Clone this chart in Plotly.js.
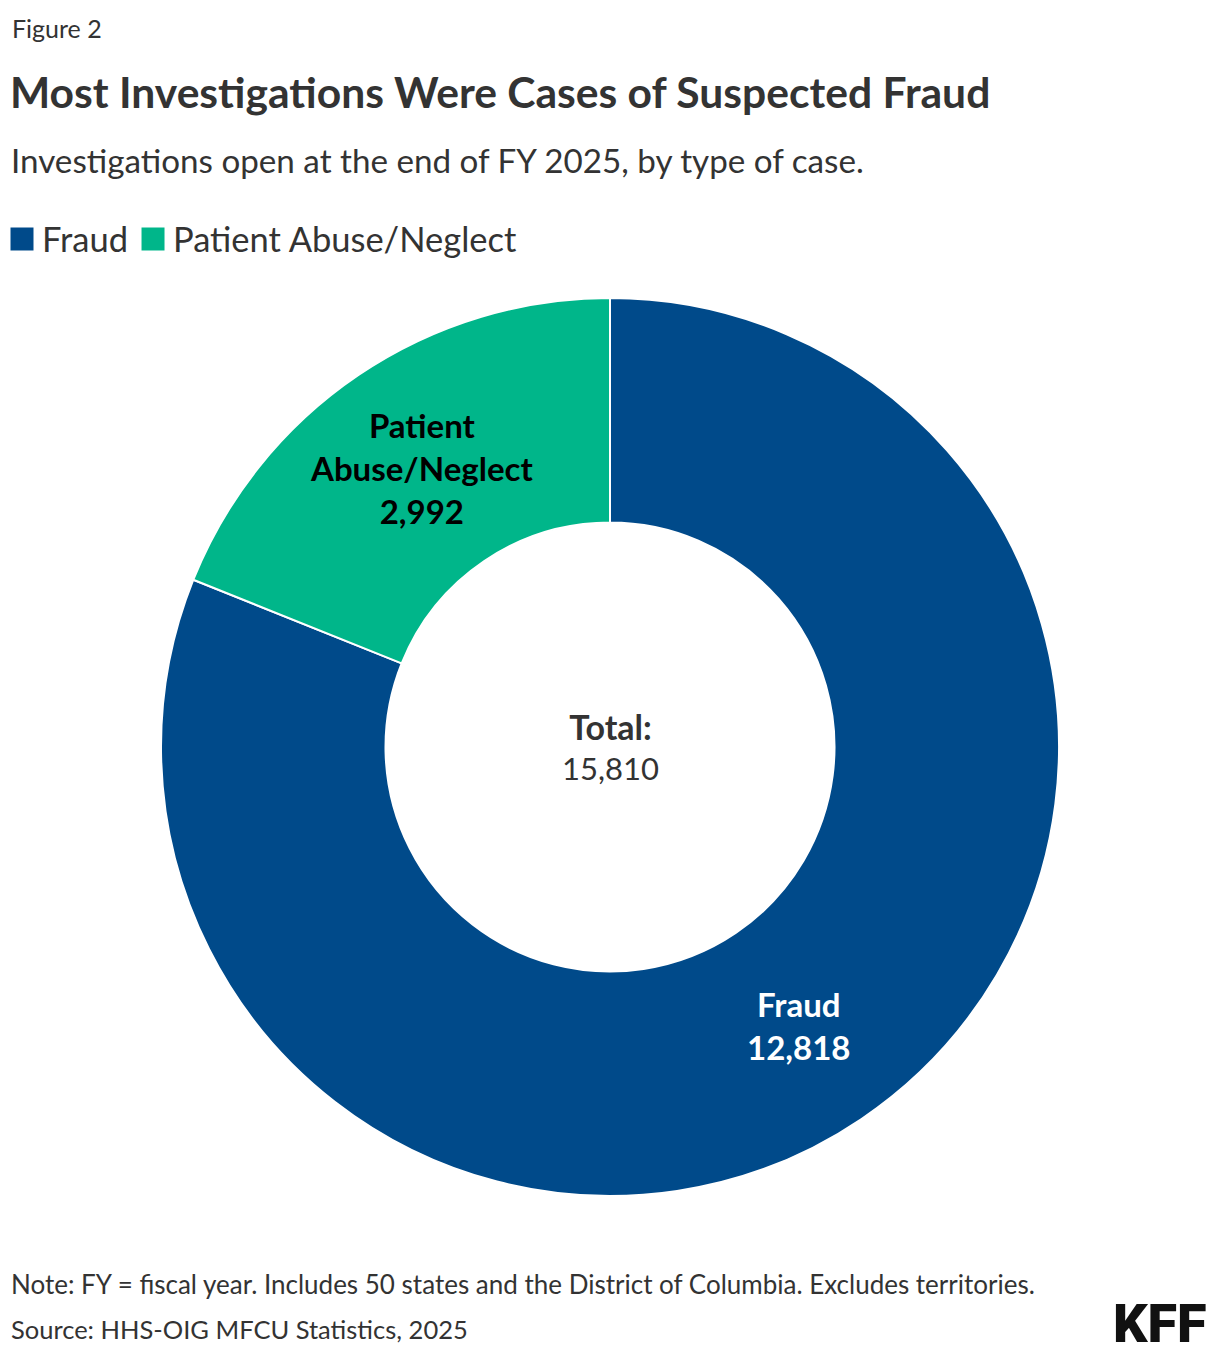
<!DOCTYPE html>
<html>
<head>
<meta charset="utf-8">
<script src="https://cdn.plot.ly/plotly-3.0.1.min.js"></script>
<style>
  html, body { margin: 0; padding: 0; background: #fff; }
  #chart { width: 1220px; height: 1356px; }
</style>
</head>
<body>
<div id="chart"></div>
<script>
// ---- Data ----
const categories = ['Fraud', 'Patient Abuse/Neglect'];
const sliceLabels = ['Fraud', 'Patient<br>Abuse/Neglect'];
const caseCounts = [12818, 2992];
const sliceColors = ['#004a8a', '#00b68a'];
const sliceTextColors = ['#ffffff', '#000000'];

const W = 1220, H = 1356;
const FONT = 'Lato, "Noto Sans", sans-serif';
const TXT = '#333333';
const py = p => 1 - p / H;   // pixel y -> paper y
const px = p => p / W;

const total = caseCounts.reduce((a, b) => a + b, 0);

const cx = 610, cy = 747, R = 449, HOLE = 0.5;

const trace = {
  type: 'pie',
  labels: categories,
  values: caseCounts,
  textinfo: 'none',
  hole: HOLE,
  sort: false,
  direction: 'clockwise',
  rotation: 0,
  marker: { colors: sliceColors, line: { color: '#ffffff', width: 2 } },
  domain: { x: [px(cx - R), px(cx + R)], y: [py(cy + R), py(cy - R)] },
  hoverinfo: 'label+value'
};

// slice labels placed at the middle of each slice (derived from the values)
const sliceAnnotations = [];
let cum = 0;
const rMid = R * (1 + HOLE) / 2;
caseCounts.forEach((v, i) => {
  const theta = 2 * Math.PI * (cum + v / 2) / total;
  cum += v;
  sliceAnnotations.push({
    text: '<b>' + sliceLabels[i] + '<br>' + v.toLocaleString('en-US') + '</b>',
    x: px(cx + rMid * Math.sin(theta)), y: py(cy - rMid * Math.cos(theta)),
    xref: 'paper', yref: 'paper', xanchor: 'center', yanchor: 'middle', showarrow: false,
    font: { size: 33, color: sliceTextColors[i] }
  });
});

const layout = {
  width: W, height: H,
  margin: { l: 0, r: 0, t: 0, b: 0 },
  paper_bgcolor: '#ffffff',
  font: { family: FONT, color: TXT },
  showlegend: true,
  legend: {
    orientation: 'h', x: px(2), y: py(210), xanchor: 'left', yanchor: 'top',
    font: { family: FONT, size: 34.5, color: TXT },
    itemwidth: 30, traceorder: 'normal', bgcolor: 'rgba(0,0,0,0)'
  },
  annotations: [
    { text: 'Figure 2', x: px(10), y: py(28), xref: 'paper', yref: 'paper', xanchor: 'left', yanchor: 'middle', showarrow: false, font: { size: 25, color: TXT } },
    { text: '<b>Most Investigations Were Cases of Suspected Fraud</b>', x: px(8), y: py(92), xref: 'paper', yref: 'paper', xanchor: 'left', yanchor: 'middle', showarrow: false, font: { size: 42.6, color: TXT } },
    { text: 'Investigations open at the end of FY 2025, by type of case.', x: px(9), y: py(160), xref: 'paper', yref: 'paper', xanchor: 'left', yanchor: 'middle', showarrow: false, font: { size: 33.2, color: TXT } },
    { text: '<span style="font-size:34px"><b>Total:</b></span><br>' + total.toLocaleString('en-US'), x: px(cx), y: py(cy - 1), xref: 'paper', yref: 'paper', xanchor: 'center', yanchor: 'middle', showarrow: false, font: { size: 31, color: TXT } },
    { text: 'Note: FY = fiscal year. Includes 50 states and the District of Columbia. Excludes territories.', x: px(9), y: py(1284), xref: 'paper', yref: 'paper', xanchor: 'left', yanchor: 'middle', showarrow: false, font: { size: 26, color: TXT } },
    { text: 'Source: HHS-OIG MFCU Statistics, 2025', x: px(9), y: py(1329), xref: 'paper', yref: 'paper', xanchor: 'left', yanchor: 'middle', showarrow: false, font: { size: 25.5, color: TXT } },
    { text: 'KFF', x: px(1209), y: py(1323), xref: 'paper', yref: 'paper', xanchor: 'right', yanchor: 'middle', showarrow: false, font: { size: 54, color: '#111111', weight: 900, family: 'Roboto, Lato, sans-serif' } }
  ].concat(sliceAnnotations)
};

Plotly.newPlot('chart', [trace], layout, { displayModeBar: false, staticPlot: true }).then(() => {
  document.querySelectorAll('.legendpoints path').forEach(p => {
    p.setAttribute('transform', 'translate(20,0) scale(2.3)');
  });
});
</script>
</body>
</html>
